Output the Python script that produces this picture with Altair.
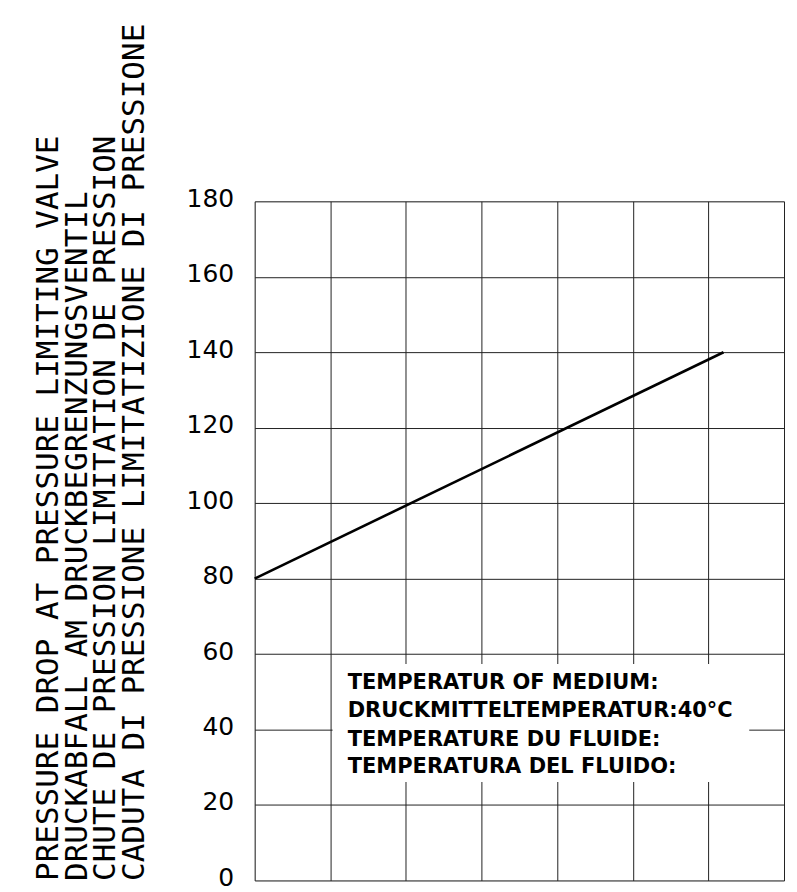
import altair as alt
import pandas as pd

# Data
flow = [0, 62]
pressure = [80, 140]

y_ticks = [0, 20, 40, 60, 80, 100, 120, 140, 160, 180]
x_grid = [0, 10, 20, 30, 40, 50, 60, 70]

title_lines = [
    "PRESSURE DROP AT PRESSURE LIMITING VALVE",
    "DRUCKABFALL AM DRUCKBEGRENZUNGSVENTIL",
    "CHUTE DE PRESSION LIMITATION DE PRESSION",
    "CADUTA DI PRESSIONE LIMITATIZIONE DI PRESSIONE",
]

note_lines = [
    "TEMPERATUR OF MEDIUM:",
    "DRUCKMITTELTEMPERATUR:40°C",
    "TEMPERATURE DU FLUIDE:",
    "TEMPERATURA DEL FLUIDO:",
]
note_y = [52.2, 44.8, 37.3, 30.2]
note_x = [12.3, 12.3, 12.3, 12.3]

box_x = [10.3]
box_x2 = [65.4]
box_y = [26.1]
box_y2 = [57.4]

line_df = pd.DataFrame({"flow": flow, "pressure": pressure})
note_df = pd.DataFrame({"text": note_lines, "x": note_x, "y": note_y})
box_df = pd.DataFrame({"x": box_x, "x2": box_x2, "y": box_y, "y2": box_y2})

x_scale = alt.Scale(domain=[0, 70], nice=False, zero=False)
y_scale = alt.Scale(domain=[0, 180], nice=False)

x_axis = alt.Axis(
    values=x_grid, labels=False, ticks=False, domain=False, title=None,
    grid=True, gridColor="#222222", gridWidth=1, gridOpacity=1,
)
y_axis = alt.Axis(
    values=y_ticks, ticks=False, tickSize=0, domain=False, grid=True,
    gridColor="#222222", gridWidth=1, gridOpacity=1,
    labelFont="DejaVu Sans", labelFontSize=25, labelColor="black",
    labelPadding=21, labelOffset=-3,
    title=title_lines, titleFont="DejaVu Sans Mono", titleFontSize=31,
    titleFontWeight="normal", titleColor="black", titleAnchor="start",
    titleLineHeight=28.5, titlePadding=36,
)

line = alt.Chart(line_df).mark_line(color="black", strokeWidth=2.6).encode(
    x=alt.X("flow:Q", scale=x_scale, axis=x_axis),
    y=alt.Y("pressure:Q", scale=y_scale, axis=y_axis),
)

box = alt.Chart(box_df).mark_rect(color="white").encode(
    x=alt.X("x:Q", scale=x_scale),
    x2="x2:Q",
    y=alt.Y("y:Q", scale=y_scale),
    y2="y2:Q",
)

notes = alt.Chart(note_df).mark_text(
    align="left", baseline="middle", font="DejaVu Sans", fontSize=21,
    fontWeight="bold", color="black",
).encode(
    x=alt.X("x:Q", scale=x_scale),
    y=alt.Y("y:Q", scale=y_scale),
    text="text:N",
)

chart = alt.layer(line, box, notes).properties(
    width=530, height=680,
    padding={"left": 24, "top": 14, "right": 5, "bottom": 5},
).configure_view(stroke="#222222", strokeWidth=1.2).configure(background="white")

chart.save("out.html", embed_options={"renderer": "svg", "actions": False})
